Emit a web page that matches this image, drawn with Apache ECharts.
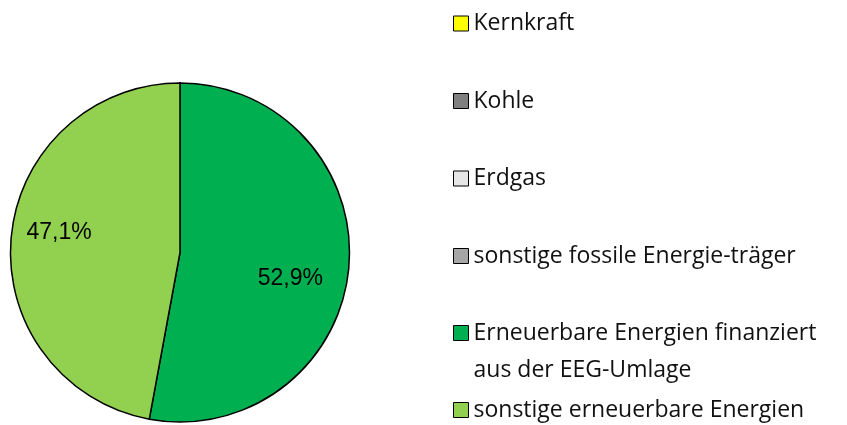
<!DOCTYPE html>
<html>
<head>
<meta charset="utf-8">
<script src="https://cdn.jsdelivr.net/npm/echarts@6/dist/echarts.min.js"></script>
<style>html,body{margin:0;padding:0;background:#fff}#c{width:847px;height:425px}</style>
</head>
<body>
<div id="c"></div>
<script>
var categories = ['Kernkraft', 'Kohle', 'Erdgas', 'sonstige fossile Energie-träger', 'Erneuerbare Energien finanziert\naus der EEG-Umlage', 'sonstige erneuerbare Energien'];
var values = [0, 0, 0, 0, 52.9, 47.1];
var labelsText = ['', '', '', '', '52,9%', '47,1%'];
var colors = ['#FFFF00', '#808080', '#E6E6E6', '#A6A6A6', '#00B050', '#92D050'];

// layout-only settings (label nudges relative to the library's inside anchor)
var legendIconCenters = [23.5, 101, 178.5, 256, 333, 410];
var labelNudge = {
  4: { padding: [0, 0, 0, 46], lineHeight: 36, blank: 'before' },
  5: { padding: [0, 67, 0, 0], lineHeight: 23.5, blank: 'after' }
};

var data = categories.map(function (c, i) {
  var d = { name: c, value: values[i], itemStyle: { color: colors[i] } };
  if (!values[i]) d.label = { show: false };
  else if (labelNudge[i]) d.label = { padding: labelNudge[i].padding, lineHeight: labelNudge[i].lineHeight };
  return d;
});

var LH = 36, LH2 = 37;
var legends = categories.map(function (c, i) {
  var multi = c.indexOf('\n') >= 0;
  var top = multi ? legendIconCenters[i] - 1.5 * LH2 : legendIconCenters[i] - LH / 2;
  return {
    orient: 'vertical', left: 453, top: top, padding: 0,
    data: [c], icon: 'rect', itemWidth: 15, itemHeight: 15,
    selectedMode: false,
    formatter: function (n) { return multi ? '\n' + n : n; },
    itemStyle: { borderColor: '#000', borderWidth: 1 },
    textStyle: {
      fontFamily: 'Open Sans', fontSize: 23, color: '#111', lineHeight: multi ? LH2 : LH
    }
  };
});

var chart = echarts.init(document.getElementById('c'), null, { renderer: 'canvas' });
chart.setOption({
  animation: false,
  legend: legends,
  series: [{
    type: 'pie',
    center: [180, 252.5],
    radius: [0, 169.5],
    startAngle: 90,
    clockwise: true,
    avoidLabelOverlap: false,
    silent: true,
    itemStyle: { borderColor: '#000', borderWidth: 1.5 },
    label: {
      show: true, position: 'inside',
      fontFamily: 'Liberation Sans', fontSize: 23, color: '#000',
      formatter: function (p) {
        var t = labelsText[p.dataIndex], n = labelNudge[p.dataIndex];
        if (!n) return t;
        return n.blank === 'before' ? '\n' + t : t + '\n';
      }
    },
    labelLine: { show: false },
    data: data
  }]
});
</script>
</body>
</html>
